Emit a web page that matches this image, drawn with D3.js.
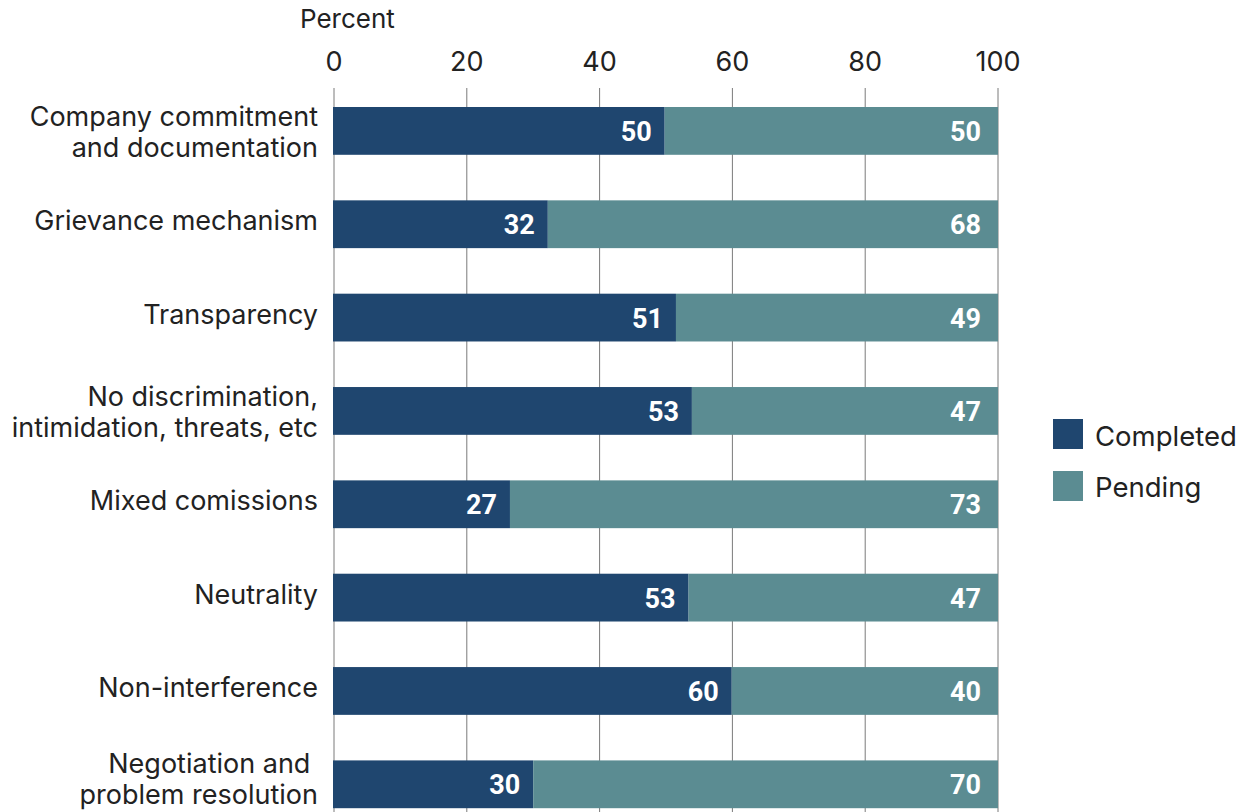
<!DOCTYPE html>
<html><head><meta charset="utf-8">
<script src="https://cdn.jsdelivr.net/npm/d3@7"></script>
<style>body{margin:0;background:#fff}svg{display:block}</style>
</head><body><svg id="c" width="1245" height="812"></svg>
<script>
const categories = [
  ["Company commitment","and documentation"],
  ["Grievance mechanism"],
  ["Transparency"],
  ["No discrimination,","intimidation, threats, etc"],
  ["Mixed comissions"],
  ["Neutrality"],
  ["Non-interference"],
  ["Negotiation and\u00a0","problem resolution"]
];
const completed = [49.8, 32.2, 51.5, 53.9, 26.5, 53.4, 59.9, 30.0];
const pending   = [50.2, 67.8, 48.5, 46.1, 73.5, 46.6, 40.1, 70.0];
const completedLabels = [50, 32, 51, 53, 27, 53, 60, 30];
const pendingLabels   = [50, 68, 49, 47, 73, 47, 40, 70];
const ticks = [0, 20, 40, 60, 80, 100];
const seriesNames = ["Completed", "Pending"];
const colors = ["#1f466f", "#5b8c92"];

const W = 1245, H = 812;
const svg = d3.select("#c");
const font = "Inter, 'Noto Sans', sans-serif";
const x = d3.scaleLinear().domain([0, 100]).range([334, 998]);
const y = d3.scaleBand().domain(d3.range(categories.length)).range([107, 808.2]).paddingInner(0.488).paddingOuter(0);

// grid
svg.append("g").selectAll("line").data(ticks).join("line")
  .attr("x1", d => x(d)).attr("x2", d => x(d))
  .attr("y1", 88).attr("y2", H)
  .attr("stroke", "#7a7a7a").attr("stroke-width", 1);

svg.append("g").selectAll("text").data(ticks).join("text")
  .attr("x", d => x(d)).attr("y", 71).attr("text-anchor", "middle")
  .attr("font-family", font).attr("font-size", 27).attr("fill", "#222")
  .text(d => d);
svg.append("text").attr("x", 300).attr("y", 28).attr("font-family", font)
  .attr("font-size", 26).attr("fill", "#222").text("Percent");

const rows = categories.map((c, i) => ({i, c, a: completed[i], b: pending[i], la: completedLabels[i], lb: pendingLabels[i]}));
const g = svg.append("g");
g.selectAll("rect.a").data(rows).join("rect").attr("class", "a")
  .attr("x", x(0) - 1).attr("y", d => y(d.i)).attr("width", d => x(d.a) - x(0) + 1).attr("height", y.bandwidth())
  .attr("fill", colors[0]);
g.selectAll("rect.b").data(rows).join("rect").attr("class", "b")
  .attr("x", d => x(d.a)).attr("y", d => y(d.i)).attr("width", d => x(d.a + d.b) - x(d.a)).attr("height", y.bandwidth())
  .attr("fill", colors[1]);
const lblFont = "Roboto, 'Liberation Sans', sans-serif";
g.selectAll("text.a").data(rows).join("text").attr("class", "a")
  .attr("x", d => x(d.a) - 13).attr("y", d => y(d.i) + y.bandwidth() / 2 + 10)
  .attr("text-anchor", "end").attr("font-family", lblFont).attr("font-weight", "bold")
  .attr("font-size", 27).attr("fill", "#fff").text(d => d.la);
g.selectAll("text.b").data(rows).join("text").attr("class", "b")
  .attr("x", d => x(d.a + d.b) - 17).attr("y", d => y(d.i) + y.bandwidth() / 2 + 10)
  .attr("text-anchor", "end").attr("font-family", lblFont).attr("font-weight", "bold")
  .attr("font-size", 27).attr("fill", "#fff").text(d => d.lb);

// category labels
const cl = svg.append("g").selectAll("text").data(rows).join("text")
  .attr("text-anchor", "end").attr("font-family", font).attr("font-size", 27).attr("fill", "#222");
cl.each(function(d) {
  const t = d3.select(this);
  const cy = y(d.i) + y.bandwidth() / 2;
  const n = d.c.length;
  // keep the last line (with descenders) inside the picture
  const first = n === 1 ? cy + 6 : Math.min(cy - 5, H - 8 - 31 * (n - 1));
  d.c.forEach((line, k) => {
    t.append("tspan").attr("x", 318).attr("y", first + k * 31).text(line);
  });
});

// legend
const lg = svg.append("g");
seriesNames.forEach((s, i) => {
  lg.append("rect").attr("x", 1053).attr("y", 419 + i * 52).attr("width", 30).attr("height", 30).attr("fill", colors[i]);
  lg.append("text").attr("x", 1095).attr("y", 446 + i * 51).attr("font-family", font)
    .attr("font-size", 27.5).attr("fill", "#222").text(s);
});
</script></body></html>
